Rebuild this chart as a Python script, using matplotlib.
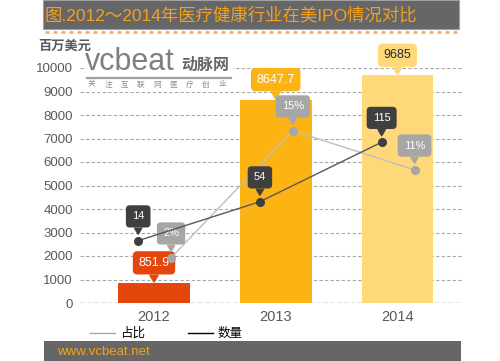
import matplotlib
matplotlib.use("Agg")
import matplotlib.pyplot as plt
from matplotlib.patches import Rectangle
from matplotlib.lines import Line2D
import numpy as np

plt.rcParams['font.family'] = ['Liberation Sans', 'Noto Sans CJK SC', 'DejaVu Sans']

# datos
years = ['2012', '2013', '2014']
amount = [851.9, 8647.7, 9685]        # 百万美元
count = [14, 54, 115]                 # 数量
share = [2, 15, 11]                   # 占比 (%)
share_labels = ['2%', '15%', '11%']

bar_colors = ['#E5460B', '#FBB414', '#FED879']
label_txt_colors = ['white', 'white', '#262626']
orange = '#F5A11C'
gray_bar = '#666666'

fig = plt.figure(figsize=(5, 3.61), dpi=100)
W, H = 500, 361

def fx(px):
    return px / W

def fy(py):
    return 1 - py / H

# barra del titulo
fig.add_artist(Rectangle((fx(43), fy(29)), fx(416), 29 / H, transform=fig.transFigure,
                         fc=gray_bar, ec='#a0a0a0', lw=0.8, zorder=1))
fig.text(fx(45), fy(15), '图.2012～2014年医疗健康行业在美IPO情况对比', color=orange,
         fontsize=12.5, va='center', ha='left', zorder=2)
fig.add_artist(Line2D([fx(45), fx(458)], [fy(32), fy(32)], transform=fig.transFigure,
                      color='#F7A85A', lw=1.8, ls=(0, (1.6, 1.6)), zorder=2))

# pie de pagina
fig.add_artist(Rectangle((fx(44), 0), fx(417), 20 / H, transform=fig.transFigure,
                         fc=gray_bar, ec='none', zorder=1))
fig.text(fx(57), fy(352), 'www.vcbeat.net', color=orange, fontsize=9.5, va='center', ha='left', zorder=2)

# ejes principales
ax = fig.add_axes([fx(80), fy(303), fx(382), 235 / H])
x = np.arange(len(years))
ax.bar(x, amount, width=0.59, color=bar_colors, zorder=2)
ax.set_xlim(-0.608, 2.53)
ax.set_ylim(0, 10000)
ax.set_yticks(np.arange(0, 10001, 1000))
ax.set_xticks(x)
ax.set_xticklabels(years)
ax.tick_params(axis='both', length=0, colors='#595959')
ax.tick_params(axis='y', pad=5, labelsize=9.5)
ax.tick_params(axis='x', pad=5, labelsize=10.5)
for s in ax.spines.values():
    s.set_visible(False)
ax.grid(axis='y', color='#A6A6A6', lw=0.8, ls=(0, (3, 2)), zorder=0)
ax.axhline(0, color='#808080', lw=1, ls=(0, (3, 2)), zorder=1)


def callout(a, xv, yv, txt, fc, tc, dy, gap, fs, pad):
    a.annotate(txt, xy=(xv, yv), xytext=(0, dy), textcoords='offset points',
               ha='center', va='center', color=tc, fontsize=fs, zorder=6,
               bbox=dict(boxstyle=f'round,pad={pad},rounding_size=0.35', fc=fc, ec='none'),
               arrowprops=dict(arrowstyle='wedge,tail_width=0.8,shrink_factor=0.6',
                               fc=fc, ec='none', shrinkA=0, shrinkB=gap))


for i in range(len(years)):
    callout(ax, x[i], amount[i], f'{amount[i]:g}', bar_colors[i], label_txt_colors[i], 14.5, 0, 9, 0.45)

# ejes secundarios (ocultos) para las lineas
ax_s = ax.twinx()
ax_s.set_ylim(-2.63, 21.42)
ax_s.axis('off')
ax_c = ax.twinx()
ax_c.set_ylim(-49.9, 191.1)
ax_c.axis('off')
ax_s.set_xlim(ax.get_xlim())
ax_c.set_xlim(ax.get_xlim())

xs = x + 0.14
xc = x - 0.13
ax_s.plot(xs, share, color='#BFBFBF', lw=1, marker='o', ms=5.5,
          mfc='#A6A6A6', mec='#A6A6A6', zorder=3)
ax_c.plot(xc, count, color='#595959', lw=1, marker='o', ms=5.5,
          mfc='#3F3F3F', mec='#3F3F3F', zorder=3)

for i in range(len(years)):
    callout(ax_s, xs[i], share[i], share_labels[i], '#A6A6A6', 'white', 17.5, 4, 8, 0.55)
    callout(ax_c, xc[i], count[i], str(count[i]), '#3F3F3F', 'white', 17.5, 4, 8, 0.55)

# unidad
fig.text(fx(38), fy(47), '百万美元', color='#595959', fontsize=9.5, fontweight='bold',
         va='center', ha='left')

# logo
fig.add_artist(Rectangle((fx(86), fy(92)), fx(147), 40 / H, transform=fig.transFigure,
                         fc='white', ec='none', zorder=5))
fig.text(fx(85), fy(70), 'vcbeat', color='#7f7f7f', fontsize=22, va='baseline', ha='left', zorder=6)
fig.text(fx(181), fy(70), '动脉网', color='#666666', fontsize=11.5, fontweight='bold',
         va='baseline', ha='left', zorder=6)
fig.add_artist(Line2D([fx(87), fx(231)], [fy(78), fy(78)], transform=fig.transFigure,
                      color='#A0A0A0', lw=1.6, zorder=6))
slogan = '关注互联网医疗创业'
for k, ch in enumerate(slogan):
    fig.text(fx(88 + k * 16.3), fy(85), ch, color='#8c8c8c', fontsize=5.5,
             va='center', ha='left', zorder=6)

# leyenda
handles = [Line2D([], [], color='#A6A6A6', lw=1), Line2D([], [], color='black', lw=1)]
fig.legend(handles, ['占比', '数量'], loc='center left', bbox_to_anchor=(fx(90), fy(334)),
           ncol=2, frameon=False, fontsize=9, handlelength=2.0, handletextpad=0.4,
           columnspacing=3.4, borderpad=0, borderaxespad=0)

fig.savefig('out.png', dpi=100)
